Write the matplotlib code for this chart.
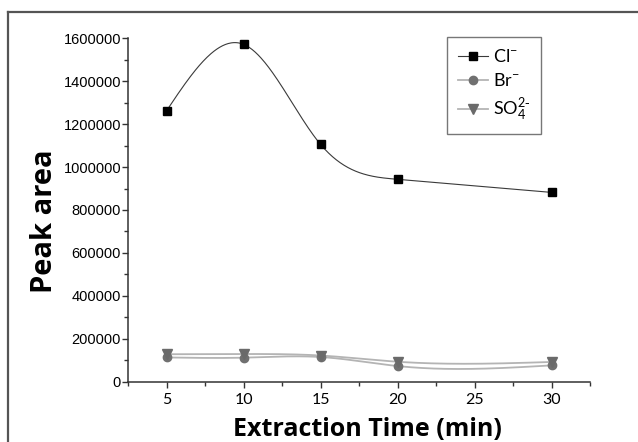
import numpy as np
import matplotlib
matplotlib.use("Agg")
import matplotlib.pyplot as plt
from matplotlib.lines import Line2D
from matplotlib.ticker import MultipleLocator, FuncFormatter

# extraction time (min)
times = [5, 10, 15, 20, 30]

# peak areas
cl_area = [1262000, 1572000, 1106000, 943000, 882000]
br_area = [113000, 112000, 115000, 73000, 76000]
so4_area = [128000, 129000, 122000, 93000, 92000]

labels = ["Cl$^{-}$", "Br$^{-}$", "SO$_4^{2\\text{-}}$"]

plt.rcParams["mathtext.default"] = "regular"


def natural_spline(x, y, xs):
    # natural cubic spline, same look as Origin's "spline" connector
    x = np.asarray(x, float)
    y = np.asarray(y, float)
    n = len(x)
    h = np.diff(x)
    A = np.zeros((n, n))
    rhs = np.zeros(n)
    A[0, 0] = A[-1, -1] = 1.0
    for i in range(1, n - 1):
        A[i, i - 1] = h[i - 1]
        A[i, i] = 2 * (h[i - 1] + h[i])
        A[i, i + 1] = h[i]
        rhs[i] = 6 * ((y[i + 1] - y[i]) / h[i] - (y[i] - y[i - 1]) / h[i - 1])
    M = np.linalg.solve(A, rhs)
    idx = np.clip(np.searchsorted(x, xs) - 1, 0, n - 2)
    x0, x1 = x[idx], x[idx + 1]
    hh = x1 - x0
    return (M[idx] * (x1 - xs) ** 3 / (6 * hh) + M[idx + 1] * (xs - x0) ** 3 / (6 * hh)
            + (y[idx] / hh - M[idx] * hh / 6) * (x1 - xs)
            + (y[idx + 1] / hh - M[idx + 1] * hh / 6) * (xs - x0))


W, H = 638, 442
fig = plt.figure(figsize=(W / 100, H / 100), dpi=100)
ax = fig.add_axes([128 / W, 1 - 381.7 / H, (590 - 128) / W, (381.7 - 38.3) / H])

xs = np.linspace(times[0], times[-1], 400)

series = [
    (cl_area, "#3a3a3a", 0.8, "s", "black", 5.4),
    (br_area, "#b4b4b4", 1.3, "o", "#707070", 6.0),
    (so4_area, "#b4b4b4", 1.3, "v", "#6a6a6a", 6.5),
]
handles = []
for (vals, lc, lw, mk, mc, ms), lab in zip(series, labels):
    ax.plot(xs, natural_spline(times, vals, xs), color=lc, lw=lw, zorder=2)
    ax.plot(times, vals, ls="none", marker=mk, color=mc, ms=ms, zorder=3)
    handles.append(Line2D([], [], color=lc, lw=lw, marker=mk, mfc=mc, mec=mc, ms=ms))

ax.set_xlim(2.5, 32.5)
ax.set_ylim(0, 1600000)
ax.xaxis.set_major_locator(MultipleLocator(5))
ax.xaxis.set_minor_locator(MultipleLocator(2.5))
ax.yaxis.set_major_locator(MultipleLocator(200000))
ax.yaxis.set_minor_locator(MultipleLocator(100000))
ax.yaxis.set_major_formatter(FuncFormatter(lambda v, p: f"{int(round(v))}"))
ax.set_xticks([5, 10, 15, 20, 25, 30])

for side in ["top", "right"]:
    ax.spines[side].set_visible(False)
for side in ["left", "bottom"]:
    ax.spines[side].set_color("#333333")
    ax.spines[side].set_linewidth(1.1)

ax.tick_params(which="major", direction="out", length=4, width=1, color="#333333")
ax.tick_params(which="minor", direction="out", length=3, width=1, color="#333333")
ax.tick_params(axis="y", pad=1, labelsize=10.5, labelfontfamily="Liberation Sans")
ax.tick_params(axis="x", pad=4, labelsize=11.5, labelfontfamily="Lato")

ax.set_xlabel("Extraction Time (min)", fontfamily="Open Sans", fontweight="bold", fontsize=18)
ax.set_ylabel("Peak area", fontfamily="Open Sans", fontweight="bold", fontsize=21)
ax.xaxis.set_label_coords(0.518, -0.102)
ax.yaxis.set_label_coords(-0.15, 0.468)

leg = ax.legend(handles, labels, loc="upper left",
                bbox_to_anchor=(446.7 / W, 1 - 37.3 / H), bbox_transform=fig.transFigure,
                borderaxespad=0, fancybox=False, edgecolor="#555555",
                prop={"family": "Lato", "size": 13}, handlelength=1.7,
                handletextpad=0.25, labelspacing=0.4, borderpad=0.6)
leg.get_frame().set_linewidth(1.0)

# outer frame of the original figure (only top and left edges show)
fig.add_artist(Line2D([8 / W, 8 / W], [0, 1 - 12 / H], color="#555555", lw=1.6,
                      transform=fig.transFigure))
fig.add_artist(Line2D([8 / W, 1], [1 - 12 / H, 1 - 12 / H], color="#555555", lw=1.6,
                      transform=fig.transFigure))

fig.savefig("out.png", dpi=100)
